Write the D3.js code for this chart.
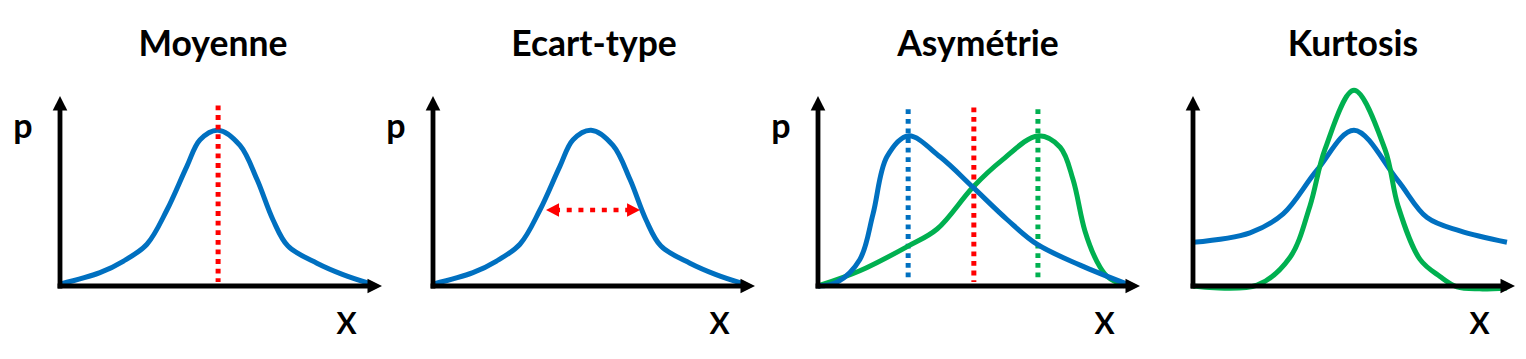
<!DOCTYPE html>
<html><head><meta charset="utf-8">
<script src="https://cdn.jsdelivr.net/npm/d3@7"></script>
<style>body{margin:0;background:#fff}svg{display:block}</style>
</head><body>
<svg id="chart" width="1526" height="359"></svg>
<script>
// ---------- data ----------
const titles = ["Moyenne", "Ecart-type", "Asymétrie", "Kurtosis"];
const yLabels = ["p", "p", "p", ""];
const xLabels = ["X", "X", "X", "X"];

// symmetric bell curve (panels 1 & 2), [x, p]
const normalCurve = [[0,0.01],[1.24,0.07],[1.96,0.13],[2.70,0.22],[3.32,0.40],[3.94,0.63],[4.35,0.77],[4.91,0.82],[5.59,0.74],[6.12,0.56],[6.61,0.35],[7.08,0.21],[7.98,0.12],[8.79,0.06],[9.58,0.015]];
// mean marker (panel 1)
const meanLine = [4.91, 0.95];
// standard deviation arrow (panel 2): from, to, level
const sdArrow = [3.51, 6.43, 0.40];
// skewed curves (panel 3)
const rightSkew = [[0,0],[0.59,0.02],[1.30,0.14],[1.71,0.38],[2.14,0.68],[2.80,0.79],[3.79,0.68],[4.81,0.52],[5.87,0.35],[6.80,0.22],[8.14,0.11],[9.60,0.01]];
const leftSkew  = [[0,0],[1.30,0.08],[2.80,0.21],[3.70,0.30],[4.81,0.52],[5.70,0.66],[6.83,0.79],[7.52,0.73],[7.92,0.56],[8.29,0.29],[8.66,0.13],[8.98,0.05],[9.53,0.0]];
// mode / median / mode markers (panel 3): x, top
const skewMarkers = [[2.80, 0.93, "blue"], [4.84, 0.94, "red"], [6.83, 0.93, "green"]];
// kurtosis curves (panel 4)
const flatCurve = [[0,0.23],[1.77,0.28],[2.80,0.38],[3.85,0.61],[5.0,0.82],[6.34,0.56],[7.27,0.36],[8.29,0.29],[9.75,0.23]];
const peakCurve = [[0,0],[1.99,0.005],[3.01,0.15],[3.63,0.42],[4.10,0.72],[5.0,1.03],[5.96,0.72],[6.37,0.42],[7.05,0.14],[7.67,0.05],[8.2,-0.005],[8.9,-0.015],[9.75,-0.01]];

// ---------- layout ----------
const colors = {blue: "#0070C0", green: "#00B050", red: "#FF0000", axis: "#000"};
const panelX = [60, 433, 818, 1193];
const titleDx = [153, 161, 160, 160];
const baseY = 286;
const x = d3.scaleLinear().domain([0, 10]).range([0, 322]);
const y = d3.scaleLinear().domain([0, 1]).range([0, -190]);
const line = d3.line().x(d => x(d[0])).y(d => y(d[1])).curve(d3.curveCatmullRom.alpha(0.5));

const svg = d3.select("#chart");
const font = "Lato, 'Open Sans', sans-serif";

const panels = svg.selectAll("g.panel").data(titles).join("g")
  .attr("class", "panel")
  .attr("transform", (d, i) => `translate(${panelX[i]},${baseY})`);

function drawCurve(g, data, color) {
  g.append("path").attr("d", line(data)).attr("fill", "none")
    .attr("stroke", colors[color]).attr("stroke-width", 5).attr("stroke-linejoin", "round");
}
function drawDotted(g, xv, top, color) {
  g.append("line").attr("x1", x(xv)).attr("x2", x(xv))
    .attr("y1", y(top)).attr("y2", y(0) - 4)
    .attr("stroke", colors[color]).attr("stroke-width", 5)
    .attr("stroke-dasharray", "4.8 4.8");
}

panels.each(function(t, i) {
  const g = d3.select(this);
  if (i === 0) {
    drawCurve(g, normalCurve, "blue");
    drawDotted(g, meanLine[0], meanLine[1], "red");
  } else if (i === 1) {
    drawCurve(g, normalCurve, "blue");
    const x1 = x(sdArrow[0]), x2 = x(sdArrow[1]), yy = y(sdArrow[2]);
    const hl = 13, hw = 6.8;
    g.append("line").attr("x1", x1 + 9).attr("x2", x2 - 9).attr("y1", yy).attr("y2", yy)
      .attr("stroke", colors.red).attr("stroke-width", 4.5).attr("stroke-dasharray", "5 6.7");
    g.append("path").attr("d", `M${x1},${yy}L${x1 + hl},${yy - hw}L${x1 + hl},${yy + hw}Z`).attr("fill", colors.red);
    g.append("path").attr("d", `M${x2},${yy}L${x2 - hl},${yy - hw}L${x2 - hl},${yy + hw}Z`).attr("fill", colors.red);
  } else if (i === 2) {
    skewMarkers.forEach(m => drawDotted(g, m[0], m[1], m[2]));
    drawCurve(g, leftSkew, "green");
    drawCurve(g, rightSkew, "blue");
  } else {
    drawCurve(g, flatCurve, "blue");
    drawCurve(g, peakCurve, "green");
  }
  // axes with arrowheads
  const aw = 4.8, hl = 14.5, hw = 7.3;
  const xEnd = x.range()[1], yTop = y.range()[1];
  g.append("line").attr("x1", 0).attr("x2", 0).attr("y1", aw / 2).attr("y2", yTop + hl - 1)
    .attr("stroke", colors.axis).attr("stroke-width", aw);
  g.append("path").attr("d", `M0,${yTop}L${-hw},${yTop + hl}L${hw},${yTop + hl}Z`).attr("fill", colors.axis);
  g.append("line").attr("x1", -aw / 2).attr("x2", xEnd - hl + 1).attr("y1", 0).attr("y2", 0)
    .attr("stroke", colors.axis).attr("stroke-width", aw);
  g.append("path").attr("d", `M${xEnd},0L${xEnd - hl},${-hw}L${xEnd - hl},${hw}Z`).attr("fill", colors.axis);
  // labels
  g.append("text").text(yLabels[i]).attr("x", -37).attr("y", 138 - baseY)
    .attr("text-anchor", "middle").attr("font-family", font).attr("font-weight", 700).attr("font-size", 34);
  g.append("text").text(xLabels[i]).attr("x", 286.5).attr("y", 333.5 - baseY)
    .attr("text-anchor", "middle").attr("font-family", font).attr("font-weight", 700).attr("font-size", 30);
  g.append("text").text(t).attr("x", titleDx[i]).attr("y", 56 - baseY)
    .attr("text-anchor", "middle").attr("font-family", font).attr("font-weight", 700).attr("font-size", 35.5);
});
</script>
</body></html>
